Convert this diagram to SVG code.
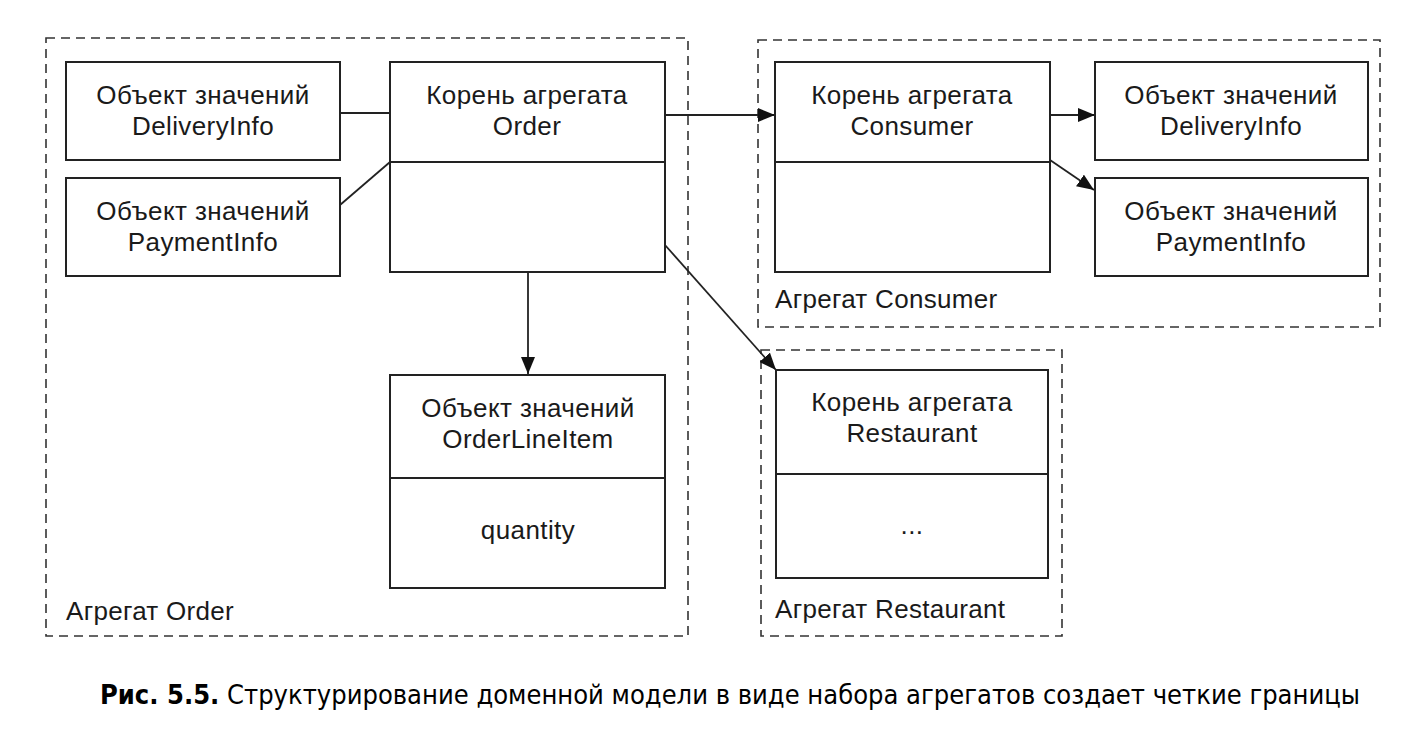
<svg xmlns="http://www.w3.org/2000/svg" width="1418" height="730" viewBox="0 0 1418 730">
<style>
.agg{fill:none;stroke:#333;stroke-width:1.6;stroke-dasharray:9,6}
.box{fill:#fff;stroke:#222;stroke-width:2}
.div{stroke:#222;stroke-width:2}
.t{font-family:"Liberation Sans",Arial,sans-serif;font-size:26px;letter-spacing:0.4px;fill:#1a1a1a;text-anchor:middle}
.lbl{font-family:"Liberation Sans",Arial,sans-serif;font-size:26px;letter-spacing:0.3px;fill:#1a1a1a}
.con{fill:none;stroke:#222;stroke-width:1.8}
.cap{font-family:"DejaVu Sans Condensed","DejaVu Sans",sans-serif;font-size:27px;fill:#000}
</style>
<defs>
<marker id="arr" viewBox="0 0 17 14" refX="17" refY="7" markerWidth="17" markerHeight="14" markerUnits="userSpaceOnUse" orient="auto">
<path d="M0,0 L17,7 L0,14 z" fill="#111"/>
</marker>
</defs>
<rect x="0" y="0" width="1418" height="730" fill="#fff"/>

<g id="agg-order">
<rect class="agg" x="46" y="38" width="642" height="598"/>
<text class="lbl" x="66" y="620">Агрегат Order</text>
</g>
<g id="agg-consumer">
<rect class="agg" x="758" y="40" width="622" height="287"/>
<text class="lbl" x="775" y="308">Агрегат Consumer</text>
</g>
<g id="agg-restaurant">
<rect class="agg" x="761" y="350" width="301" height="286"/>
<text class="lbl" x="775" y="618">Агрегат Restaurant</text>
</g>

<g id="connectors">
<line class="con" x1="340" y1="113" x2="390" y2="113"/>
<line class="con" x1="340" y1="205" x2="390" y2="162"/>
<line class="con" x1="528" y1="272" x2="528" y2="374" marker-end="url(#arr)"/>
<line class="con" x1="665" y1="115" x2="775" y2="115" marker-end="url(#arr)"/>
<line class="con" x1="1050" y1="115" x2="1095" y2="115" marker-end="url(#arr)"/>
<line class="con" x1="1050" y1="160" x2="1094" y2="190" marker-end="url(#arr)"/>
<line class="con" x1="665" y1="245" x2="776" y2="370" marker-end="url(#arr)"/>
</g>

<g id="order-deliveryinfo">
<rect class="box" x="66" y="62" width="274" height="98"/>
<text class="t" x="203" y="104">Объект значений</text>
<text class="t" x="203" y="135">DeliveryInfo</text>
</g>
<g id="order-paymentinfo">
<rect class="box" x="66" y="178" width="274" height="98"/>
<text class="t" x="203" y="220">Объект значений</text>
<text class="t" x="203" y="251">PaymentInfo</text>
</g>
<g id="order-root">
<rect class="box" x="390" y="62" width="275" height="210"/>
<line class="div" x1="390" y1="162" x2="665" y2="162"/>
<text class="t" x="527" y="104">Корень агрегата</text>
<text class="t" x="527" y="135">Order</text>
</g>
<g id="orderlineitem">
<rect class="box" x="390" y="375" width="275" height="213"/>
<line class="div" x1="390" y1="478" x2="665" y2="478"/>
<text class="t" x="528" y="417">Объект значений</text>
<text class="t" x="528" y="448">OrderLineItem</text>
<text class="t" x="528" y="539">quantity</text>
</g>
<g id="consumer-root">
<rect class="box" x="775" y="62" width="275" height="210"/>
<line class="div" x1="775" y1="162" x2="1050" y2="162"/>
<text class="t" x="912" y="104">Корень агрегата</text>
<text class="t" x="912" y="135">Consumer</text>
</g>
<g id="consumer-deliveryinfo">
<rect class="box" x="1095" y="62" width="273" height="98"/>
<text class="t" x="1231" y="104">Объект значений</text>
<text class="t" x="1231" y="135">DeliveryInfo</text>
</g>
<g id="consumer-paymentinfo">
<rect class="box" x="1095" y="178" width="273" height="98"/>
<text class="t" x="1231" y="220">Объект значений</text>
<text class="t" x="1231" y="251">PaymentInfo</text>
</g>
<g id="restaurant-root">
<rect class="box" x="776" y="370" width="272" height="208"/>
<line class="div" x1="776" y1="474" x2="1048" y2="474"/>
<text class="t" x="912" y="411">Корень агрегата</text>
<text class="t" x="912" y="442">Restaurant</text>
<text class="t" x="912" y="534">...</text>
</g>

<text class="cap" x="100" y="704" textLength="1260" lengthAdjust="spacingAndGlyphs"><tspan font-weight="bold">Рис. 5.5.</tspan> Структурирование доменной модели в виде набора агрегатов создает четкие границы</text>
</svg>
